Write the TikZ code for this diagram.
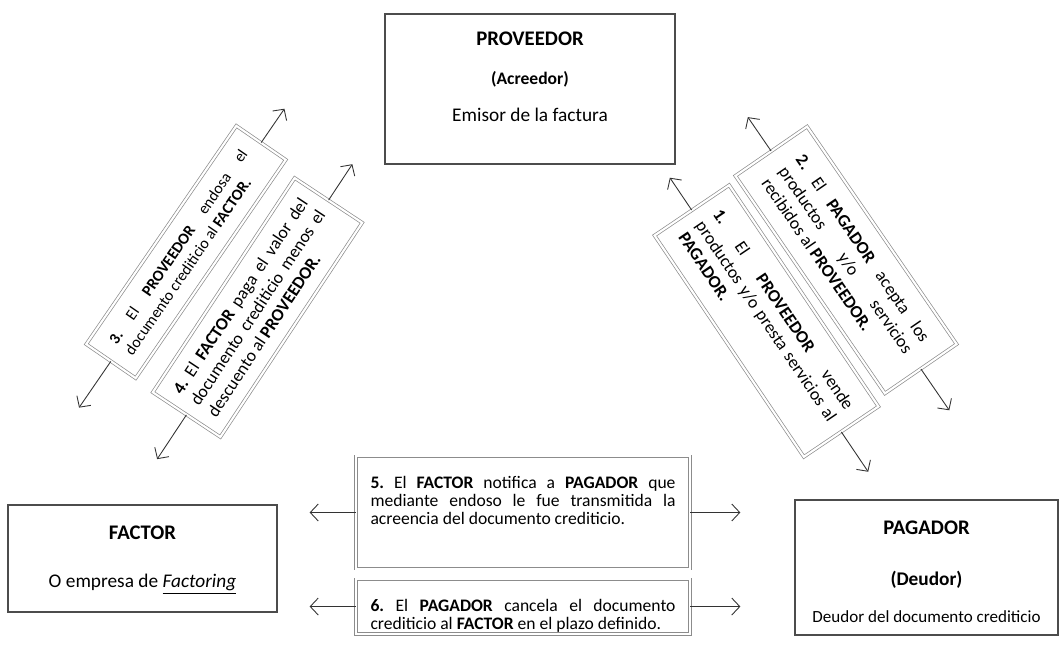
\documentclass[tikz,border=0pt]{standalone}
\usepackage{fontspec}
\setmainfont{Carlito}
\usepackage{tikz}
\usetikzlibrary{calc}
\usetikzlibrary{positioning}
\usetikzlibrary{arrows.meta}
\tolerance=10000
\hyphenpenalty=10000
\frenchspacing

\tikzset{
  caja/.style={draw=black!70, line width=1.2pt, align=center, font=\fontsize{11}{13}\selectfont, inner sep=0.13cm},
  titulo/.style={font=\fontsize{11.8}{13}\selectfont\bfseries},
  paso/.style={draw=black!45, double=white, double distance=1.2pt, align=justify, font=\fontsize{10}{11.8}\selectfont},
  flecha/.style={->, black!80, line width=0.5pt}
}

\begin{document}
\begin{tikzpicture}[>={Straight Barb[length=1.6mm,width=3.4mm]}]
\useasboundingbox (0,0) rectangle (21.22,13.3);

% actores
\node[caja, minimum width=5.8cm, minimum height=2.96cm] (prov) at (10.6,11.52) {\rule{0pt}{0.49cm}{\fontsize{11.8}{13}\selectfont\textbf{PROVEEDOR}}\\[0.34cm] {\fontsize{10}{12}\selectfont\textbf{(Acreedor)}}\\[0.28cm] Emisor de la factura\rule[-0.71cm]{0pt}{0pt}};
\node[caja, minimum width=5.38cm, minimum height=2.14cm] (fact) at (2.85,2.13) {\rule{0pt}{0.55cm}{\fontsize{11.8}{13}\selectfont\textbf{FACTOR}}\\[0.52cm] O empresa de \underline{\textit{Factoring}}\rule[-0.35cm]{0pt}{0pt}};
\node[caja, minimum width=5.26cm, minimum height=2.7cm] (pag) at (18.53,1.95) {\rule{0pt}{0.55cm}{\fontsize{11.8}{13}\selectfont\textbf{PAGADOR}}\\[0.56cm] \textbf{(Deudor)}\\[0.3cm] {\fontsize{9.7}{11}\selectfont Deudor del documento crediticio}\rule[-0.11cm]{0pt}{0pt}};

% pasos 1 a 4
\node[paso, rotate=-56, minimum width=5.34cm, minimum height=1.8cm, text width=4.75cm] (n1) at (15.33,6.88) {\textbf{1.} El \textbf{PROVEEDOR} vende\linebreak productos y/o presta servicios al\linebreak \textbf{PAGADOR.}};
\node[paso, rotate=-55.5, minimum width=5.28cm, minimum height=1.74cm, text width=4.45cm] (n2) at (16.92,8.10) {\textbf{2.} El \textbf{PAGADOR} acepta los\linebreak productos y/o servicios\linebreak recibidos al \textbf{PROVEEDOR.}};
\node[paso, rotate=55.5, minimum width=5.3cm, minimum height=1.2cm, text width=4.64cm, font=\fontsize{9}{11}\selectfont] (n3) at (3.72,8.26) {\textbf{3.} El \textbf{PROVEEDOR} endosa el\linebreak documento crediticio al \textbf{FACTOR.}};
\node[paso, rotate=56.5, minimum width=5.14cm, minimum height=1.62cm, text width=4.6cm] (n4) at (5.15,7.15) {\textbf{4.} El \textbf{FACTOR} paga el valor del\linebreak documento crediticio menos el\linebreak descuento al \textbf{PROVEEDOR.}};

% pasos 5 y 6
\node[paso, font=\fontsize{10}{10.3}\selectfont, text width=6.1cm, minimum width=6.68cm, inner ysep=1pt] (b5) at (10.46,3.05) {\rule{0pt}{0.6cm}\textbf{5.} El \textbf{FACTOR} notifica a \textbf{PAGADOR} que\linebreak mediante endoso le fue transmitida la\linebreak acreencia del documento crediticio.\rule[-0.85cm]{0pt}{0pt}};
\node[paso, font=\fontsize{10}{10.3}\selectfont, text width=6.1cm, minimum width=6.68cm, inner ysep=1pt, below=0.2cm of b5] (b6) {\rule{0pt}{0.6cm}\textbf{6.} El \textbf{PAGADOR} cancela el documento\linebreak crediticio al \textbf{FACTOR} en el plazo definido.};

\coordinate (u1) at ($(n1.west)!-0.78cm!(n1.east)$);
\coordinate (d1) at ($(n1.east)!-0.96cm!(n1.west)$);
\coordinate (u2) at ($(n2.west)!-0.82cm!(n2.east)$);
\coordinate (d2) at ($(n2.east)!-1cm!(n2.west)$);
\coordinate (u3) at ($(n3.east)!-0.82cm!(n3.west)$);
\coordinate (d3) at ($(n3.west)!-1.12cm!(n3.east)$);
\coordinate (u4) at ($(n4.east)!-0.86cm!(n4.west)$);
\coordinate (d4) at ($(n4.west)!-1.06cm!(n4.east)$);
\coordinate[left=0.92cm of b5] (l5);
\coordinate[right=1cm of b5] (r5);
\coordinate[left=0.92cm of b6] (l6);
\coordinate[right=1cm of b6] (r6);

\draw[flecha] (n1.west) -- (u1);
\draw[flecha] (n1.east) -- (d1);
\draw[flecha] (n2.west) -- (u2);
\draw[flecha] (n2.east) -- (d2);
\draw[flecha] (n3.east) -- (u3);
\draw[flecha] (n3.west) -- (d3);
\draw[flecha] (n4.east) -- (u4);
\draw[flecha] (n4.west) -- (d4);
\draw[flecha] (b5.west) -- (l5);
\draw[flecha] (b5.east) -- (r5);
\draw[flecha] (b6.west) -- (l6);
\draw[flecha] (b6.east) -- (r6);

\end{tikzpicture}
\end{document}
